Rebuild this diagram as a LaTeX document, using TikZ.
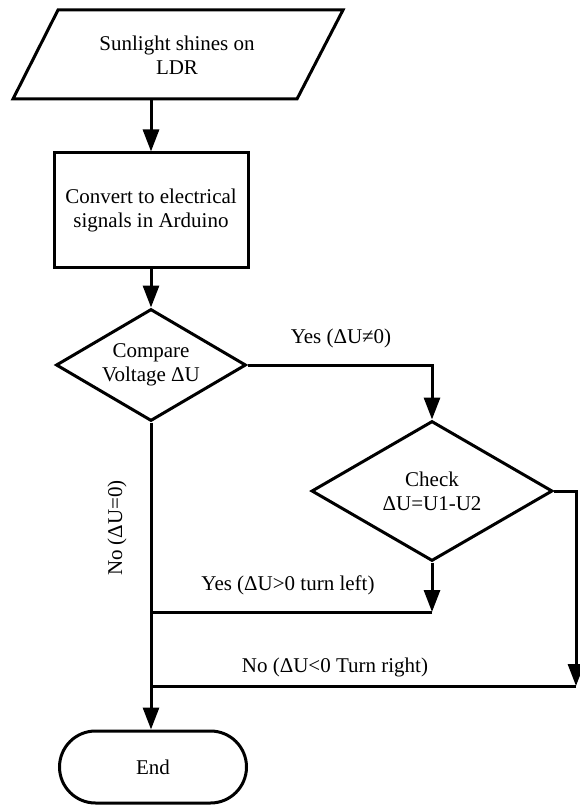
\documentclass[tikz,border=0pt]{standalone}
\usepackage{fontspec}
\setmainfont{Liberation Serif}
\usetikzlibrary{shapes.geometric,arrows.meta,calc}

\tikzset{
  plain/.style = {line width=3pt},
  flow/.style = {plain, -{Triangle[length=22pt,width=16pt]}},
  box/.style = {draw, line width=3pt, align=center, inner sep=0pt},
  decision/.style = {box, diamond}
}

\begin{document}
\begin{tikzpicture}[x=1pt, y=-1pt, font=\fontsize{21}{24}\selectfont]
\useasboundingbox (0,0) rectangle (580,805);

% input parallelogram
\draw[plain, line join=miter] (13,99) -- (58,10) -- (343,10) -- (297,99) -- cycle;
\node[align=center] (sun) at (177,55) {Sunlight shines on\\LDR};
\coordinate (sunout) at (151,99);

\node[box, minimum width=194pt, minimum height=114pt] (conv) at (151,210) {Convert to electrical\\signals in Arduino};
\node[decision, aspect=1.7, minimum width=190pt, minimum height=112pt] (cmp) at (151,365) {Compare\\Voltage ΔU};
\node[decision, aspect=1.72, minimum width=241pt, minimum height=140pt] (chk) at (432,491) {Check\\ΔU=U1-U2};
\node[box, rounded corners=36pt, minimum width=187pt, minimum height=72pt] (end) at (153,767) {End};

\draw[flow] (sunout) -- (conv.north);
\draw[flow] (conv.south) -- (cmp.north);
\draw[flow] (cmp.east) -| (chk.north);
\draw[flow] (cmp.south) -- (cmp.south |- end.north);

\coordinate (yesj) at (432,612);
\draw[flow] (chk.south) -- (yesj);
\draw[plain] (yesj) -- (yesj -| cmp.south);

\coordinate (noj) at (576,686);
\draw[flow] (chk.east) -| (noj);
\draw[plain] (noj) -- (noj -| cmp.south);

\node (yesne) at (341,338) {Yes (ΔU≠0)};
\node[rotate=90] (noeq) at (117,528) {No (ΔU=0)};
\node (yesleft) at (288,585) {Yes (ΔU>0 turn left)};
\node (noright) at (335,667) {No (ΔU<0 Turn right)};

\end{tikzpicture}
\end{document}
